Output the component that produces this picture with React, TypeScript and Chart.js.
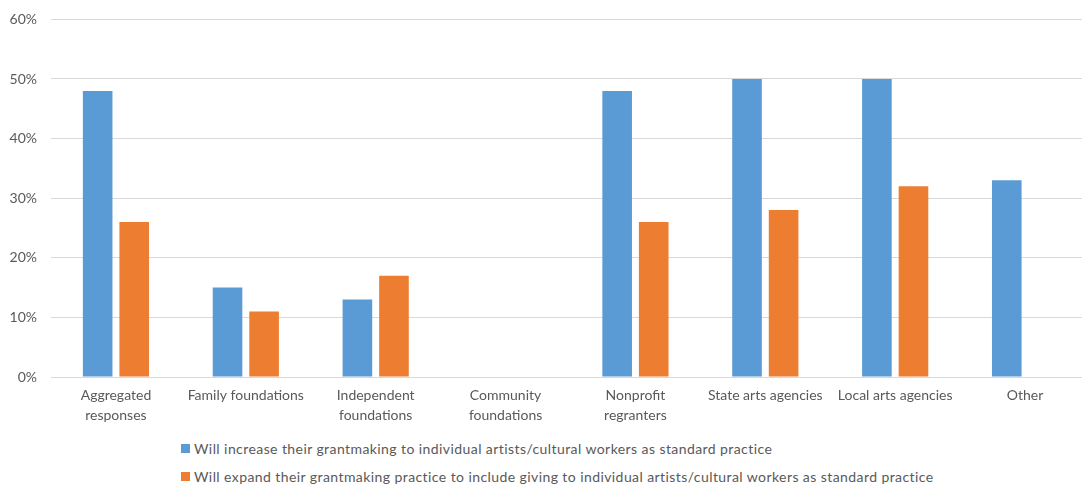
import React, { useEffect, useRef } from "react";
import { Chart, registerables } from "chart.js";

Chart.register(...registerables);

const categories: (string | string[])[] = [
  ["Aggregated", "responses"],
  "Family foundations",
  ["Independent", "foundations"],
  ["Community", "foundations"],
  ["Nonprofit", "regranters"],
  "State arts agencies",
  "Local arts agencies",
  "Other",
];

const increaseLabel =
  "Will increase their grantmaking to individual artists/cultural workers as standard practice";
const expandLabel =
  "Will expand their grantmaking practice to include giving to individual artists/cultural workers as standard practice";

const increaseValues = [48, 15, 13, 0, 48, 50, 50, 33];
const expandValues = [26, 11, 17, 0, 26, 28, 32, 0];

const yTicks = [0, 10, 20, 30, 40, 50, 60];

const BLUE = "#5B9BD5";
const ORANGE = "#ED7D31";
const TEXT = "#595959";
const FONT = "Lato, 'Open Sans', sans-serif";

export default function App() {
  const ref = useRef<HTMLCanvasElement | null>(null);

  useEffect(() => {
    if (!ref.current) return;
    const chart = new Chart(ref.current, {
      type: "bar",
      data: {
        labels: categories,
        datasets: [
          {
            label: increaseLabel,
            data: increaseValues,
            backgroundColor: BLUE,
            categoryPercentage: 0.563,
            barPercentage: 0.81,
          },
          {
            label: expandLabel,
            data: expandValues,
            backgroundColor: ORANGE,
            categoryPercentage: 0.563,
            barPercentage: 0.81,
          },
        ],
      },
      options: {
        responsive: false,
        animation: false,
        maintainAspectRatio: false,
        layout: { padding: { top: 16, left: 0, right: 0, bottom: 0 } },
        plugins: {
          legend: { display: false },
          tooltip: { enabled: false },
        },
        scales: {
          x: {
            grid: { display: false, drawTicks: false },
            border: { display: true, color: "#D9D9D9" },
            ticks: {
              color: TEXT,
              font: { family: FONT, size: 14, lineHeight: "20px" },
              padding: 8,
              maxRotation: 0,
              autoSkip: false,
            },
            afterFit: (s: any) => {
              s.height = 48;
            },
          },
          y: {
            min: 0,
            max: 60,
            afterBuildTicks: (s: any) => {
              s.ticks = yTicks.map((v) => ({ value: v }));
            },
            grid: { color: "#D9D9D9", drawTicks: false },
            border: { display: false },
            ticks: {
              color: TEXT,
              font: { family: FONT, size: 14 },
              padding: 14,
              callback: (v: any) => v + "%",
            },
            afterFit: (s: any) => {
              s.width = 51;
            },
          },
        },
      },
    });
    return () => chart.destroy();
  }, []);

  const legendItems = [
    { label: increaseLabel, color: BLUE, top: 439 },
    { label: expandLabel, color: ORANGE, top: 467 },
  ];

  return (
    <div
      style={{
        position: "absolute",
        left: 0,
        top: 0,
        width: 1082,
        height: 487,
        overflow: "hidden",
        background: "#fff",
      }}
    >
      <canvas
        ref={ref}
        width={1090}
        height={428}
        style={{ display: "block", width: 1090, height: 428, marginTop: -3 }}
      />
      {legendItems.map((it, i) => (
        <div
          key={i}
          style={{
            position: "absolute",
            left: 181,
            top: it.top,
            height: 18,
            display: "flex",
            alignItems: "center",
            whiteSpace: "nowrap",
            fontFamily: FONT,
            fontSize: 14,
            letterSpacing: "0.42px",
            color: TEXT,
          }}
        >
          <span style={{ display: "inline-block", width: 9, height: 9, background: it.color, marginRight: 4 }} />
          <span>{it.label}</span>
        </div>
      ))}
    </div>
  );
}
